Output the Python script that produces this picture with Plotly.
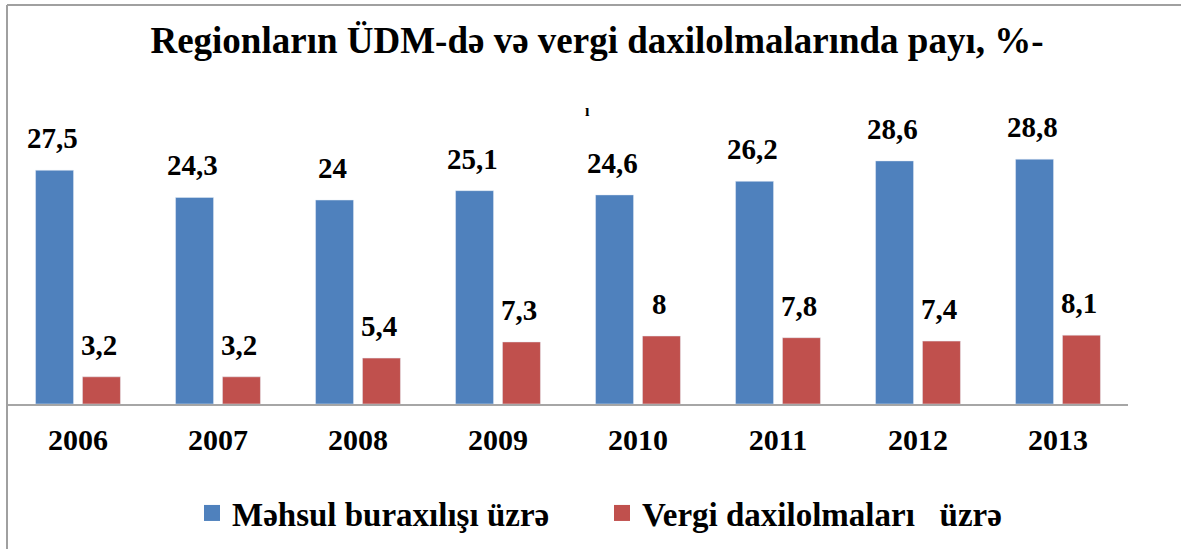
import plotly.graph_objects as go

years = ["2006", "2007", "2008", "2009", "2010", "2011", "2012", "2013"]
mehsul = [27.5, 24.3, 24.0, 25.1, 24.6, 26.2, 28.6, 28.8]
vergi = [3.2, 3.2, 5.4, 7.3, 8.0, 7.8, 7.4, 8.1]
name_mehsul = "Məhsul buraxılışı üzrə"
name_vergi = "Vergi daxilolmaları\u00a0\u00a0\u00a0üzrə"
title_text = "Regionların ÜDM-də və vergi daxilolmalarında payı, %-"

BLUE = "#4F81BD"
RED = "#C0504D"
FONT = "Liberation Serif, Times New Roman, serif"


def fmt(v):
    return f"{v:g}".replace(".", ",")


fig = go.Figure()
fig.add_trace(go.Bar(x=years, y=mehsul, name=name_mehsul, marker_color=BLUE,
                     showlegend=False))
fig.add_trace(go.Bar(x=years, y=vergi, name=name_vergi, marker_color=RED,
                     showlegend=False))
# legend entries with larger square symbols
fig.add_trace(go.Scatter(x=[years[0]], y=[None], mode="markers", name=name_mehsul,
                         marker=dict(symbol="square", size=16, color=BLUE)))
fig.add_trace(go.Scatter(x=[years[0]], y=[None], mode="markers", name=name_vergi,
                         marker=dict(symbol="square", size=16, color=RED)))

label_font = dict(family=FONT, size=29, color="black", weight="bold")
annotations = []
for i, v in enumerate(mehsul):
    annotations.append(dict(x=i, y=v, xref="x", yref="y", text=fmt(v),
                            showarrow=False, yanchor="bottom", xshift=-26,
                            yshift=14, font=label_font))
for i, v in enumerate(vergi):
    annotations.append(dict(x=i, y=v, xref="x", yref="y", text=fmt(v),
                            showarrow=False, yanchor="bottom", xshift=21,
                            yshift=14, font=label_font))
# clipped remnant of the title's second line
annotations.append(dict(x=(587 - 8) / 1120, y=(404 - 100) / 272, xref="paper",
                        yref="paper", text="ı", showarrow=False,
                        font=dict(family=FONT, size=16, color="black",
                                  weight="bold")))

fig.update_layout(
    width=1181, height=549,
    margin=dict(l=8, r=53, t=132, b=145, autoexpand=False),
    paper_bgcolor="white", plot_bgcolor="white",
    barmode="group", bargap=0.33, bargroupgap=0.19,
    title=dict(text=title_text, x=597 / 1181, xanchor="center",
               y=1 - 40 / 549, yanchor="middle",
               font=dict(family=FONT, size=37, color="black", weight="bold")),
    xaxis=dict(type="category", categoryorder="array", categoryarray=years,
               range=[-0.5, len(years) - 0.5], autorange=False,
               showline=True, linecolor="#A6A6A6",
               linewidth=2, ticks="", showgrid=False, ticklabelstandoff=8,
               automargin=False,
               tickfont=dict(family=FONT, size=30, color="black",
                             weight="bold")),
    yaxis=dict(range=[0, 32], autorange=False, visible=False, showgrid=False,
               automargin=False),
    legend=dict(orientation="h", x=(602 - 8) / 1120, xanchor="center",
                y=-(513 - 404) / 272, yanchor="middle",
                font=dict(family=FONT, size=33, color="black", weight="bold"),
                entrywidth=365, itemsizing="trace"),
    annotations=annotations,
    shapes=[
        dict(type="line", xref="paper", yref="paper",
             x0=-1 / 1120, x1=-1 / 1120, y0=-(549 - 404) / 272,
             y1=(404 - 5) / 272, line=dict(color="#A0A0A0", width=2)),
        dict(type="line", xref="paper", yref="paper",
             x0=-1 / 1120, x1=(1181 - 8) / 1120, y0=(404 - 5) / 272,
             y1=(404 - 5) / 272, line=dict(color="#A0A0A0", width=2)),
    ],
)

fig.write_html(
    "out.html",
    config={"displayModeBar": False},
    post_script="document.body.style.margin='0';"
                "document.body.style.overflow='hidden';",
)
